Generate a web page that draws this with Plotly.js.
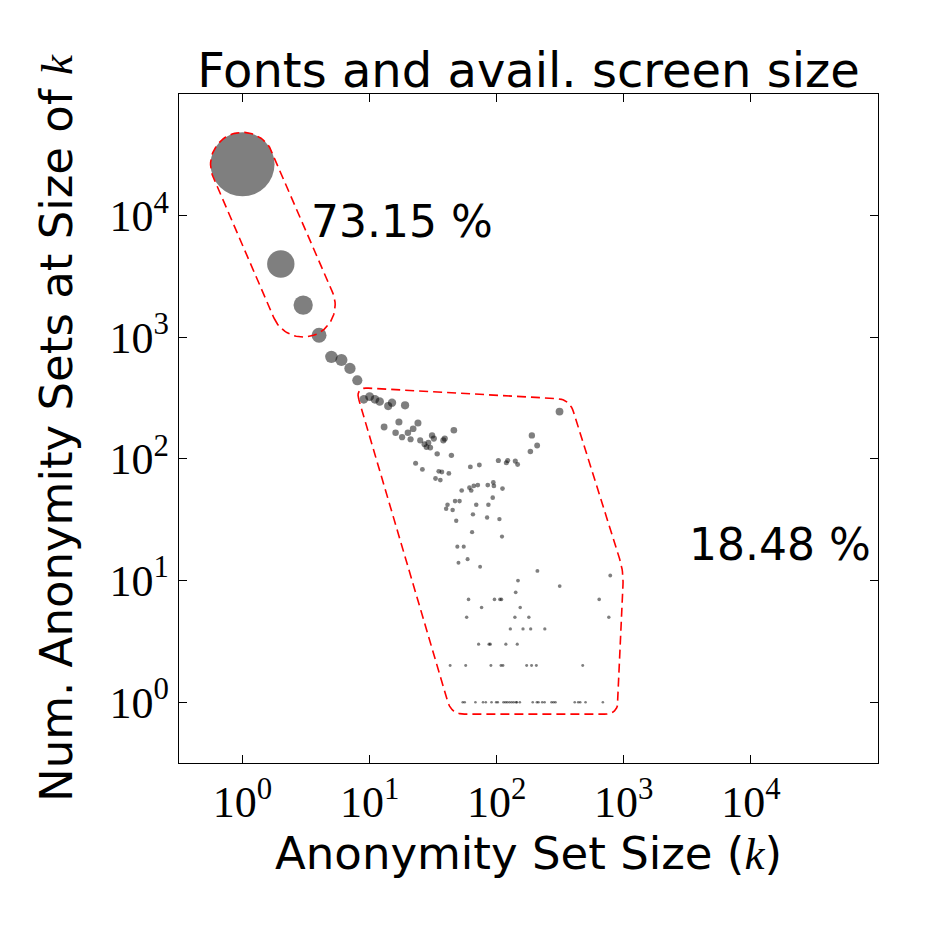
<!DOCTYPE html>
<html>
<head>
<meta charset="utf-8">
<script src="https://cdn.plot.ly/plotly-3.0.1.min.js"></script>
<style>
  html, body { margin: 0; padding: 0; background: white; }
  #chart { width: 926px; height: 926px; }
</style>
</head>
<body>
<div id="chart"></div>
<script>
// anonymity set size k and how many sets have that size
const setSizes = [
  1, 2, 3, 4, 5, 6, 7, 8, 9, 10, 11, 12, 13, 14, 15, 16, 17, 18, 19, 20,
  21, 22, 23, 24, 25, 26, 27, 28, 29, 30, 31, 32, 33, 34, 35, 36, 37, 38, 39, 40,
  41, 42, 43, 44, 45, 46, 47, 48, 49, 50, 51, 53, 54, 55, 56, 57, 58, 59, 60, 61,
  62, 63, 64, 65, 66, 68, 69, 71, 72, 73, 74, 76, 78, 82, 84, 85, 86, 87, 89, 90,
  91, 93, 94, 95, 96, 99, 102, 103, 105, 106, 108, 109, 110, 111, 112, 113, 117, 118, 119, 121,
  122, 126, 128, 131, 136, 139, 140, 141, 142, 144, 145, 146, 147, 152, 153, 161, 172, 179, 184, 185,
  188, 189, 192, 205, 207, 208, 209, 213, 228, 238, 239, 270, 280, 290, 312, 313, 411, 438, 454, 475,
  500, 640, 684, 762, 782,
];
const setCounts = [
  26400, 4000, 1840, 1040, 690, 650, 555, 443, 309, 325, 309, 296, 183, 272, 290, 164, 201, 151, 276, 164,
  145, 177, 92, 197, 142, 82, 132, 125, 136, 124, 156, 147, 69, 110, 79, 67, 78, 142, 147, 39,
  42, 76, 2, 107, 38, 172, 45, 31, 19, 14, 45, 55, 1, 19, 1, 2, 5, 15, 7, 58,
  86, 55, 25, 35, 60, 1, 42, 61, 3, 89, 13, 6, 1, 1, 33, 61, 42, 3, 3, 2,
  1, 48, 64, 60, 7, 1, 1, 97, 32, 7, 2, 7, 23, 57, 2, 1, 1, 3, 93, 1,
  97, 1, 4, 1, 1, 5, 96, 8, 1, 1, 3, 90, 10, 1, 6, 4, 2, 5, 115, 4,
  2, 156, 1, 2, 1, 129, 12, 1, 1, 1, 4, 1, 1, 1, 245, 9, 1, 1, 1, 2,
  1, 7, 1, 5, 11,
];

// outlined groups and their shares
const uniqueGroupEnds = [1, 3];          // capsule from k=1 to k=3
const mixedGroupK = [7.7, 374, 995, 893, 44];
const mixedGroupN = [387, 309, 11.9, 0.797, 0.797];
const groupLabels = ["73.15 %", "18.48 %"];
const labelK = [3.35, 3120];
const labelN = [8960, 19.9];

const xTickVals = [1, 10, 100, 1000, 10000];
const yTickVals = [1, 10, 100, 1000, 10000];
const tickText = ["10<sup>0</sup>", "10<sup>1</sup>", "10<sup>2</sup>", "10<sup>3</sup>", "10<sup>4</sup>"];

const W = 926, H = 926;
const margin = { l: 179, r: 48, t: 94, b: 163 };
const xRange = [-0.5, 5], yRange = [-0.5, 5];
const SX = (W - margin.l - margin.r) / (xRange[1] - xRange[0]);
const SY = (H - margin.t - margin.b) / (yRange[1] - yRange[0]);

const toPx = (k, n) => [Math.log10(k) * SX, Math.log10(n) * SY];
const fromPx = (p) => [Math.pow(10, p[0] / SX), Math.pow(10, p[1] / SY)];

const bigR = 32; // px radius of the k=1 marker
function markerDiameter(n) {
  const r = Math.max(bigR * Math.pow(n / setCounts[0], 0.45), 1.3 + 0.6 * Math.log10(n));
  return 2 * r;
}

// capsule around two markers, in pixel-like log space
function capsule(ka, kb, r) {
  const ia = setSizes.indexOf(ka), ib = setSizes.indexOf(kb);
  const A = toPx(ka, setCounts[ia]), B = toPx(kb, setCounts[ib]);
  const phi = Math.atan2(B[1] - A[1], B[0] - A[0]);
  const pts = [];
  for (let i = 0; i <= 40; i++) {
    const t = phi - Math.PI / 2 + Math.PI * i / 40;
    pts.push([B[0] + r * Math.cos(t), B[1] + r * Math.sin(t)]);
  }
  for (let i = 0; i <= 40; i++) {
    const t = phi + Math.PI / 2 + Math.PI * i / 40;
    pts.push([A[0] + r * Math.cos(t), A[1] + r * Math.sin(t)]);
  }
  pts.push(pts[0]);
  return pts.map(fromPx);
}

// polygon with rounded corners
function roundedPolygon(ks, ns, r) {
  const v = ks.map((k, i) => toPx(k, ns[i]));
  const pts = [];
  for (let i = 0; i < v.length; i++) {
    const p = v[(i - 1 + v.length) % v.length], c = v[i], q = v[(i + 1) % v.length];
    const d1 = Math.hypot(p[0] - c[0], p[1] - c[1]), d2 = Math.hypot(q[0] - c[0], q[1] - c[1]);
    const a = [c[0] + (p[0] - c[0]) * r / d1, c[1] + (p[1] - c[1]) * r / d1];
    const b = [c[0] + (q[0] - c[0]) * r / d2, c[1] + (q[1] - c[1]) * r / d2];
    for (let j = 0; j <= 10; j++) {
      const t = j / 10;
      pts.push([
        (1 - t) * (1 - t) * a[0] + 2 * (1 - t) * t * c[0] + t * t * b[0],
        (1 - t) * (1 - t) * a[1] + 2 * (1 - t) * t * c[1] + t * t * b[1],
      ]);
    }
  }
  pts.push(pts[0]);
  return pts.map(fromPx);
}

const cap = capsule(uniqueGroupEnds[0], uniqueGroupEnds[1], bigR);
const poly = roundedPolygon(mixedGroupK, mixedGroupN, 13);

const outlineStyle = { color: "#ff0000", width: 1.6, dash: "9px,5px" };

const traces = [
  {
    x: setSizes, y: setCounts,
    type: "scatter", mode: "markers",
    marker: { color: "black", opacity: 0.5, size: setCounts.map(markerDiameter), line: { width: 0 } },
    hoverinfo: "x+y",
  },
  {
    x: cap.map(p => p[0]), y: cap.map(p => p[1]),
    type: "scatter", mode: "lines", line: outlineStyle, hoverinfo: "skip",
  },
  {
    x: poly.map(p => p[0]), y: poly.map(p => p[1]),
    type: "scatter", mode: "lines", line: outlineStyle, hoverinfo: "skip",
  },
];

const sansFont = "DejaVu Sans, sans-serif";
const mathFont = "Liberation Serif, DejaVu Serif, serif";
const kItalic = `<span style="font-family:${mathFont}"><i>k</i></span>`;

const axisCommon = {
  type: "log",
  showgrid: false, zeroline: false,
  showline: true, linecolor: "black", linewidth: 1.3,
  mirror: "ticks",
  ticks: "inside", ticklen: 8, tickwidth: 1, tickcolor: "black",
  tickfont: { family: mathFont, size: 44, color: "black" },
};

const layout = {
  width: W, height: H,
  margin,
  showlegend: false,
  plot_bgcolor: "white",
  paper_bgcolor: "white",
  title: {
    text: "Fonts and avail. screen size",
    font: { family: sansFont, size: 48, color: "black" },
    x: 0.5707, xanchor: "center",
    yref: "container", y: 0.924, yanchor: "middle",
  },
  xaxis: {
    ...axisCommon,
    range: xRange,
    tickvals: xTickVals, ticktext: tickText,
    title: { text: `Anonymity Set Size (${kItalic})`, font: { family: sansFont, size: 45, color: "black" }, standoff: 3 },
  },
  yaxis: {
    ...axisCommon,
    range: yRange,
    tickvals: yTickVals, ticktext: tickText,
    title: { text: `Num. Anonymity Sets at Size of ${kItalic}`, font: { family: sansFont, size: 45, color: "black" }, standoff: 22 },
  },
  annotations: groupLabels.map((t, i) => ({
    text: t,
    x: Math.log10(labelK[i]), y: Math.log10(labelN[i]),
    xref: "x", yref: "y",
    xanchor: "left", yanchor: "middle",
    showarrow: false,
    font: { family: sansFont, size: 44, color: "black" },
  })),
};

Plotly.newPlot("chart", traces, layout, { displayModeBar: false, staticPlot: true });
</script>
</body>
</html>
